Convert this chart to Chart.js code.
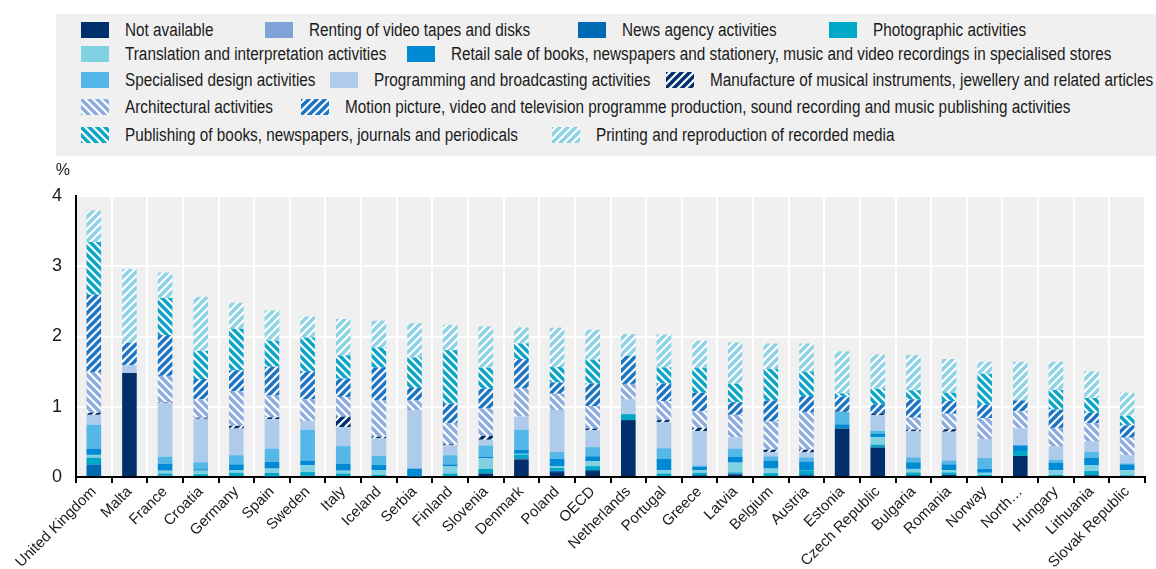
<!DOCTYPE html>
<html>
<head>
<meta charset="utf-8">
<script src="https://cdn.jsdelivr.net/npm/chart.js@4/dist/chart.umd.min.js"></script>
<style>
  html, body { margin: 0; padding: 0; background: #fff; }
  body {
    width: 1156px; height: 569px; position: relative; overflow: hidden;
    font-family: 'Liberation Sans', Arial, sans-serif;
  }
  #legend { position: absolute; left: 56px; top: 14px; width: 1100px; height: 142px; background: #f0f0f0; overflow: hidden; }
  .item { position: absolute; display: flex; align-items: center; font-size: 18px; color: #1a1a1a; white-space: nowrap; height: 20px; }
  .swatch { width: 28px; height: 16px; margin-right: 16px; flex: none; }
  .text { display: inline-block; transform: scaleX(0.85); transform-origin: left center; }
  #wrap { position: absolute; left: 0; top: 0; width: 1156px; height: 569px; }
</style>
</head>
<body>
<div id="wrap"><canvas id="chart"></canvas></div>
<div id="legend"></div>
<script>
const countries = ["United Kingdom", "Malta", "France", "Croatia", "Germany", "Spain", "Sweden", "Italy", "Iceland", "Serbia",
  "Finland", "Slovenia", "Denmark", "Poland", "OECD", "Netherlands", "Portugal", "Greece", "Latvia", "Belgium",
  "Austria", "Estonia", "Czech Republic", "Bulgaria", "Romania", "Norway", "North…", "Hungary", "Lithuania", "Slovak Republic"];

const notAvailable  = [0, 1.48, 0, 0, 0, 0, 0, 0, 0, 0, 0, 0.05, 0.25, 0.07, 0.085, 0.81, 0, 0, 0.03, 0, 0, 0.69, 0.42, 0, 0.03, 0, 0.30, 0, 0.025, 0];
const renting       = [0, 0, 0, 0, 0, 0, 0, 0, 0, 0, 0, 0, 0, 0, 0, 0, 0, 0, 0, 0, 0, 0, 0, 0, 0, 0, 0, 0, 0, 0];
const newsAgency    = [0.18, 0, 0.02, 0, 0, 0.01, 0.015, 0, 0, 0.01, 0, 0, 0.015, 0.02, 0.015, 0, 0, 0.03, 0.02, 0, 0.04, 0, 0, 0.03, 0, 0, 0, 0, 0, 0];
const photographic  = [0.095, 0, 0.03, 0.04, 0.06, 0.05, 0.055, 0.05, 0.03, 0, 0.05, 0.065, 0.055, 0.04, 0.055, 0.085, 0.05, 0.03, 0.015, 0.055, 0.055, 0, 0.04, 0.035, 0.035, 0.03, 0.07, 0.03, 0.06, 0.025];
const translation   = [0.04, 0, 0.04, 0.05, 0.04, 0.06, 0.1, 0.04, 0.07, 0, 0.1, 0.15, 0.01, 0.02, 0.07, 0, 0.05, 0.035, 0.14, 0.065, 0, 0, 0.105, 0.05, 0.03, 0.03, 0, 0.065, 0.085, 0.07];
const retailSale    = [0.09, 0, 0.1, 0.02, 0.08, 0.095, 0.065, 0.1, 0.07, 0.11, 0.03, 0.025, 0.06, 0.11, 0.07, 0, 0.16, 0.05, 0.08, 0.115, 0.125, 0.06, 0.055, 0.095, 0.085, 0.055, 0.08, 0.11, 0.105, 0.085];
const design        = [0.34, 0, 0.1, 0.1, 0.13, 0.19, 0.44, 0.25, 0.13, 0, 0.13, 0.16, 0.28, 0.095, 0.13, 0, 0.15, 0.02, 0.12, 0.06, 0.06, 0.18, 0.04, 0.07, 0.055, 0.155, 0, 0.04, 0.08, 0.015];
const programming   = [0.14, 0.11, 0.76, 0.62, 0.38, 0.42, 0.12, 0.27, 0.25, 0.83, 0.14, 0.08, 0.19, 0.6, 0.24, 0.21, 0.37, 0.49, 0.16, 0.06, 0.07, 0, 0.22, 0.37, 0.41, 0.27, 0.24, 0.195, 0.15, 0.115];
const musical       = [0.03, 0, 0.01, 0.015, 0.04, 0.025, 0, 0.15, 0.025, 0, 0.015, 0.055, 0, 0, 0.025, 0, 0.03, 0.045, 0, 0.035, 0.04, 0.02, 0.025, 0.025, 0.035, 0, 0, 0, 0, 0];
const architectural = [0.58, 0, 0.38, 0.26, 0.49, 0.31, 0.31, 0.28, 0.52, 0.14, 0.3, 0.39, 0.4, 0.23, 0.32, 0.22, 0.27, 0.24, 0.32, 0.4, 0.53, 0, 0, 0.17, 0.22, 0.3, 0.25, 0.26, 0.26, 0.25];
const motionPicture = [1.1, 0.32, 0.58, 0.29, 0.3, 0.41, 0.4, 0.26, 0.46, 0.18, 0.28, 0.28, 0.42, 0.16, 0.32, 0.4, 0.25, 0.26, 0.18, 0.3, 0.23, 0.19, 0.13, 0.26, 0.18, 0.19, 0.15, 0.26, 0.15, 0.175];
const publishing    = [0.75, 0, 0.53, 0.4, 0.59, 0.37, 0.48, 0.33, 0.29, 0.43, 0.76, 0.3, 0.22, 0.22, 0.34, 0, 0.23, 0.35, 0.26, 0.45, 0.35, 0.05, 0.22, 0.13, 0.12, 0.44, 0, 0.28, 0.21, 0.135];
const printing      = [0.45, 1.05, 0.36, 0.77, 0.37, 0.43, 0.3, 0.52, 0.38, 0.49, 0.36, 0.59, 0.23, 0.56, 0.425, 0.31, 0.47, 0.39, 0.59, 0.36, 0.4, 0.6, 0.49, 0.5, 0.48, 0.17, 0.55, 0.4, 0.38, 0.33];

const yTicks = [0, 1, 2, 3, 4];

// diagonal stripe tile: "/" rises to the right, "\" falls
function stripes(color, dir) {
  const c = document.createElement("canvas");
  c.width = 8; c.height = 8;
  const g = c.getContext("2d");
  g.fillStyle = "#fff";
  g.fillRect(0, 0, 8, 8);
  g.strokeStyle = color;
  g.lineWidth = 3.4;
  for (const o of [-8, 0, 8]) {
    g.beginPath();
    if (dir === "/") { g.moveTo(o - 1, 9); g.lineTo(o + 9, -1); }
    else { g.moveTo(o - 1, -1); g.lineTo(o + 9, 9); }
    g.stroke();
  }
  return c;
}

const pctx = document.createElement("canvas").getContext("2d");

const series = [
  { label: "Not available", data: notAvailable, color: "#002f6c" },
  { label: "Renting of video tapes and disks", data: renting, color: "#7fa3d8" },
  { label: "News agency activities", data: newsAgency, color: "#0069b4" },
  { label: "Photographic activities", data: photographic, color: "#00a8c8" },
  { label: "Translation and interpretation activities", data: translation, color: "#80d1e2" },
  { label: "Retail sale of books, newspapers and stationery, music and video recordings in specialised stores", data: retailSale, color: "#0089d4" },
  { label: "Specialised design activities", data: design, color: "#55b7e8" },
  { label: "Programming and broadcasting activities", data: programming, color: "#aecbec" },
  { label: "Manufacture of musical instruments, jewellery and related articles", data: musical, color: "#002f6c", hatch: "/" },
  { label: "Architectural activities", data: architectural, color: "#8cabdf", hatch: "\\" },
  { label: "Motion picture, video and television programme production, sound recording and music publishing activities", data: motionPicture, color: "#1b74c2", hatch: "/" },
  { label: "Publishing of books, newspapers, journals and periodicals", data: publishing, color: "#0ba6c7", hatch: "\\" },
  { label: "Printing and reproduction of recorded media", data: printing, color: "#8dd3e5", hatch: "/" }
];

series.forEach(s => {
  if (s.hatch) {
    s.tile = stripes(s.color, s.hatch);
    s.fill = pctx.createPattern(s.tile, "repeat");
  } else {
    s.fill = s.color;
  }
});

// legend rows: [series index, left]
const legendRows = [
  [[0, 25], [1, 209], [2, 522], [3, 773]],
  [[4, 25], [5, 351]],
  [[6, 25], [7, 274], [8, 610]],
  [[9, 25], [10, 245]],
  [[11, 25], [12, 496]]
];
const legendTops = [6, 30, 56, 83, 111];

const legend = document.getElementById("legend");
legendRows.forEach((row, r) => {
  row.forEach(([i, left]) => {
    const s = series[i];
    const item = document.createElement("div");
    item.className = "item";
    item.style.left = left + "px";
    item.style.top = legendTops[r] + "px";
    const sw = document.createElement("span");
    sw.className = "swatch";
    if (s.tile) sw.style.backgroundImage = `url(${s.tile.toDataURL()})`;
    else sw.style.background = s.color;
    const txt = document.createElement("span");
    txt.className = "text";
    txt.textContent = s.label;
    item.appendChild(sw);
    item.appendChild(txt);
    legend.appendChild(item);
  });
});

const plotBackground = {
  id: "plotBackground",
  beforeDraw(chart) {
    const { ctx, chartArea: a } = chart;
    ctx.save();
    ctx.fillStyle = "#f0f0f0";
    ctx.fillRect(a.left, a.top, a.right - a.left, a.bottom - a.top);
    ctx.restore();
  }
};

const unitLabel = {
  id: "unitLabel",
  afterDraw(chart) {
    const { ctx, chartArea: a } = chart;
    ctx.save();
    ctx.fillStyle = "#1a1a1a";
    ctx.font = "16px 'Liberation Sans', Arial, sans-serif";
    ctx.textAlign = "right";
    ctx.textBaseline = "middle";
    ctx.fillText("%", chart.scales.y.right - 6, a.top - 25);
    ctx.restore();
  }
};

Chart.defaults.font.family = "'Liberation Sans', Arial, sans-serif";
Chart.defaults.color = "#1a1a1a";

new Chart(document.getElementById("chart"), {
  type: "bar",
  data: {
    labels: countries,
    datasets: series.map(s => ({
      label: s.label,
      data: s.data,
      backgroundColor: s.fill,
      borderWidth: 0,
      categoryPercentage: 1,
      barPercentage: 0.41
    }))
  },
  options: {
    responsive: true,
    maintainAspectRatio: false,
    animation: false,
    layout: { padding: { top: 196, right: 11, left: 0, bottom: 0 } },
    plugins: { legend: { display: false }, tooltip: { enabled: false } },
    scales: {
      x: {
        stacked: true,
        afterFit(scale) { scale.height = 92; },
        grid: { color: "#fff", lineWidth: 2, tickColor: "#000", tickLength: 6, tickWidth: 2 },
        border: { color: "#000", width: 2 },
        ticks: { minRotation: 45, maxRotation: 45, autoSkip: false, padding: 0, font: { size: 15 } }
      },
      y: {
        stacked: true,
        min: yTicks[0],
        max: yTicks[yTicks.length - 1],
        afterFit(scale) { scale.width = 76; },
        afterBuildTicks(scale) { scale.ticks = yTicks.map(v => ({ value: v })); },
        grid: { color: "#fff", lineWidth: 2, drawTicks: false },
        border: { color: "#000", width: 2 },
        ticks: { padding: 14, font: { size: 18 } }
      }
    }
  },
  plugins: [plotBackground, unitLabel]
});
</script>
</body>
</html>
